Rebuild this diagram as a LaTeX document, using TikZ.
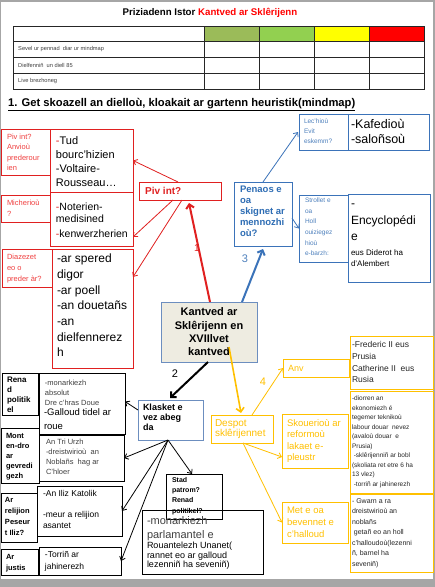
\documentclass[tikz,border=0pt]{standalone}
\usepackage{fontspec}
\setmainfont{Liberation Sans}
\usetikzlibrary{arrows.meta}
\definecolor{bred}{HTML}{E02020}
\definecolor{lred}{HTML}{F04040}
\definecolor{bblue}{HTML}{3B73B9}
\definecolor{lblue}{HTML}{4F81BD}
\definecolor{tblue}{HTML}{2E6DB4}
\definecolor{yel}{HTML}{FFC000}
\definecolor{cfill}{HTML}{EEECE1}
\definecolor{cborder}{HTML}{6C8EBF}
\definecolor{olive}{HTML}{9BBB59}
\definecolor{lgreen}{HTML}{92D050}
\definecolor{yy}{HTML}{FFFF00}
\definecolor{rr}{HTML}{FF0000}
\definecolor{dtext}{HTML}{262626}
\definecolor{gtext}{HTML}{404040}
\definecolor{pageedge}{HTML}{A6A6A6}
\begin{document}
\begin{tikzpicture}[x=1pt,y=-1pt,
 bx/.style={draw, rectangle, inner sep=0pt, outer sep=0pt, anchor=north west, line width=0.8pt},
 rbox/.style={bx, draw=bred},
 bbox/.style={bx, draw=bblue},
 kbox/.style={bx, draw=black},
 ybox/.style={bx, draw=yel},
 tx/.style={anchor=north west, inner sep=0pt, outer sep=0pt, align=left},
 fs/.style 2 args={font=\fontsize{#1}{#2}\selectfont},
 fsb/.style 2 args={font=\fontsize{#1}{#2}\selectfont\bfseries},
 thinarrow/.style={line width=0.8pt, -{Straight Barb[length=3.5pt,width=6pt]}},
 thickarrow/.style={line width=2pt, -{Straight Barb[length=4pt,width=8pt]}},
 tableline/.style={draw=black!85, line width=0.8pt},
]
\useasboundingbox (0,0) rectangle (435,587);
\fill[pageedge] (0,0) rectangle (435,587);
\fill[white] (1,2) rectangle (433,579);

% title
\node[inner sep=0pt, fsb={9.7}{11}] (title) at (210,13) {Priziadenn Istor \textcolor{rr}{Kantved ar Sklêrijenn}};

% table
\fill[olive] (204,26) rectangle (259,41);
\fill[lgreen] (259,26) rectangle (314,41);
\fill[yy] (314,26) rectangle (369,41);
\fill[rr] (369,26) rectangle (424,41);
\draw[tableline] (13,26) rectangle (424,89);
\foreach \yy in {41,57,73} {\draw[tableline] (13,\yy) -- (424,\yy);}
\foreach \xx in {204,259,314,369} {\draw[tableline] (\xx,26) -- (\xx,89);}
\node[anchor=west, inner sep=0pt, fs={5.7}{6}, text=gtext] (row1) at (18,49) {Sevel ur pennad~~diar ur mindmap};
\node[anchor=west, inner sep=0pt, fs={5.7}{6}, text=gtext] (row2) at (18,65) {Dielfenniñ~~un diell 85};
\node[anchor=west, inner sep=0pt, fs={5.7}{6}, text=gtext] (row3) at (18,81) {Live brezhoneg};

% heading
\node[anchor=west, inner sep=0pt, fsb={11.2}{12}] (heading) at (8,105) {\underline{1. Get skoazell an dielloù, kloakait ar gartenn heuristik(mindmap)}};

% ---------- red branch
\node[rbox, minimum width=49pt, minimum height=46pt] (lbl1) at (1,129) {};
\node[tx, fs={7.5}{10.5}, text=lred] (lbl1t) at (7,134) {\vphantom{Ad}Piv int?\\Anvioù\\prederour\\ien};
\node[rbox, minimum width=83pt, minimum height=63pt] (c1) at (50,129) {};
\node[tx, fs={11}{14}] (c1t) at (56,137) {\vphantom{Ad}\textcolor{bred}{-}Tud\\bourc’hizien\\-Voltaire-\\Rousseau…};
\node[rbox, minimum width=49pt, minimum height=27pt] (lbl2) at (1,195) {};
\node[tx, fs={7.5}{10.5}, text=lred] (lbl2t) at (7,200) {\vphantom{Ad}Micherioù\\?};
\node[rbox, minimum width=83pt, minimum height=54pt] (c2) at (50,192) {};
\node[tx, fs={10.5}{12}] (c2t) at (56,202.5) {\vphantom{Ad}\textcolor{bred}{-}Noterien-\\medisined\\[3pt]\textcolor{bred}{-}kenwerzherien};
\node[rbox, minimum width=50pt, minimum height=38pt] (lbl3) at (2,249) {};
\node[tx, fs={7.5}{11}, text=lred] (lbl3t) at (7,254) {\vphantom{Ad}Diazezet\\eo o\\preder àr?};
\node[rbox, minimum width=81pt, minimum height=119pt] (c3) at (52,249) {};
\node[tx, fs={12}{15.7}] (c3t) at (57,254) {\vphantom{Ad}-ar spered\\digor\\-ar poell\\-an douetañs\\-an\\dielfennerez\\h};
\node[rbox, minimum width=82pt, minimum height=18pt] (piv) at (139,182) {};
\node[anchor=west, inner sep=0pt, fsb={10}{12}, text=bred] (pivt) at (145,191) {Piv int?};

% ---------- blue branch
\node[bbox, minimum width=58pt, minimum height=64pt] (penaos) at (234,182) {};
\node[tx, fsb={9.5}{10.8}, text=tblue] (penaost) at (240,186) {\vphantom{Ad}Penaos e\\oa\\skignet ar\\mennozhi\\où?};
\node[bbox, minimum width=49pt, minimum height=36pt] (lech) at (299,114) {};
\node[tx, fs={6.5}{10}, text=lblue] (lecht) at (304,119) {\vphantom{Ad}Lec’hioù\\Evit\\eskemm?};
\node[bbox, minimum width=81pt, minimum height=36pt] (kafe) at (348,114) {};
\node[tx, fs={12.5}{15}] (kafet) at (351,119.5) {\vphantom{Ad}-Kafedioù\\-saloñsoù};
\node[bbox, minimum width=49pt, minimum height=67pt] (strl) at (299,195) {};
\node[tx, fs={6.5}{10.6}, text=lblue] (strlt) at (305,198) {\vphantom{Ad}Strollet e\\oa\\Holl\\ouiziegez\\hioù\\e-barzh:};
\node[bbox, minimum width=82pt, minimum height=88pt] (ency) at (348,194) {};
\node[tx, fs={12}{16.5}] (encyt) at (351,199) {\vphantom{Ad}-\\Encyclopédi\\e};
\node[tx, fs={8}{11}] (encyb) at (351,249.7) {\vphantom{Ad}eus Diderot ha\\d’Alembert};

% ---------- central
\node[bx, draw=cborder, fill=cfill, minimum width=96pt, minimum height=60pt] (central) at (161,302) {};
\node[align=center, inner sep=0pt, fsb={11}{13.3}] (centralt) at (209,332) {Kantved ar\\Sklêrijenn en\\XVIIlvet\\kantved};

% ---------- black branch
\node[bx, draw=cborder, minimum width=65pt, minimum height=40pt] (klask) at (138,400) {};
\node[tx, fsb={9}{10}] (klaskt) at (143,404) {\vphantom{Ad}Klasket e\\vez abeg\\da};
\node[kbox, minimum width=36pt, minimum height=42pt] (ren) at (2,373) {};
\node[tx, fsb={8}{10}] (rent) at (7,376.6) {\vphantom{Ad}Rena\\d\\politik\\el};
\node[kbox, minimum width=86pt, minimum height=61pt] (rc1) at (39,373) {};
\node[tx, fs={7.5}{10}, text=gtext] (rc1a) at (45,380) {\vphantom{Ad}-monarkiezh\\absolut\\Dre c’hras Doue};
\node[tx, fs={9.5}{14}] (rc1b) at (44,409) {\vphantom{Ad}-Galloud tidel ar\\roue};
\node[kbox, minimum width=38pt, minimum height=55pt] (mont) at (1,428) {};
\node[tx, fsb={7.5}{10}] (montt) at (6,433) {\vphantom{Ad}Mont\\en-dro\\ar\\gevredi\\gezh};
\node[kbox, minimum width=85pt, minimum height=46pt] (rc2) at (39,435) {};
\node[tx, fs={7.5}{10}, text=gtext] (rc2t) at (46,439) {\vphantom{Ad}An Tri Urzh\\-dreistwirioù~~an\\Noblañs~~hag ar\\C’hloer};
\node[kbox, minimum width=36pt, minimum height=49pt] (rel) at (1,493) {};
\node[tx, fsb={7.5}{11}] (relt) at (5,497) {\vphantom{Ad}Ar\\relijion\\Peseur\\t Iliz?};
\node[kbox, minimum width=85pt, minimum height=50pt] (rc3) at (37,486) {};
\node[tx, fs={8.5}{10.5}] (rc3t) at (43,490.5) {\vphantom{Ad}-An Iliz Katolik\\[10.5pt]-meur a relijion\\asantet};
\node[kbox, minimum width=37pt, minimum height=26pt] (jus) at (1,549) {};
\node[tx, fsb={7.5}{11}] (just) at (6,554) {\vphantom{Ad}Ar\\justis};
\node[kbox, minimum width=82pt, minimum height=28pt] (rc4) at (39,547) {};
\node[tx, fs={8.5}{11.5}] (rc4t) at (45,551.5) {\vphantom{Ad}-Torriñ ar\\jahinerezh};
\node[kbox, minimum width=56pt, minimum height=45pt] (stad) at (166,474) {};
\node[tx, fsb={7}{10.4}] (stadt) at (172,477) {\vphantom{Ad}Stad\\patrom?\\Renad\\politikel?};
\node[kbox, minimum width=121pt, minimum height=64pt] (monk) at (142,510) {};
\node[tx, fs={11}{14}, text=gtext] (monka) at (147,516.5) {\vphantom{Ad}-monarkiezh\\parlamantel e};
\node[tx, fs={9}{9.6}] (monkb) at (147,542) {\vphantom{Ad}Rouantelezh Unanet(\\rannet eo ar galloud\\lezenniñ ha seveniñ)};

% ---------- yellow branch
\node[ybox, minimum width=62pt, minimum height=28pt] (despot) at (211,415) {};
\node[tx, fs={10}{10.5}, text=yel] (despott) at (215,419) {\vphantom{Ad}Despot\\sklêrijennet};
\node[ybox, minimum width=66pt, minimum height=18pt] (anv) at (283,359) {};
\node[anchor=west, inner sep=0pt, fs={9}{10}, text=yel] (anvt) at (288,368) {Anv};
\node[ybox, minimum width=83pt, minimum height=53pt] (fred) at (350,336) {};
\node[tx, fs={8.5}{11.7}, text=dtext] (fredt) at (352,341.5) {\vphantom{Ad}-Frederic II eus\\Prusia\\Catherine II~~eus\\Rusia};
\node[ybox, minimum width=66pt, minimum height=54pt] (skl) at (282,414) {};
\node[tx, fs={9.5}{11.5}, text=yel] (sklt) at (287,419) {\vphantom{Ad}Skouerioù ar\\reformoù\\lakaet e-\\pleustr};
\node[ybox, minimum width=83pt, minimum height=102pt] (skc) at (350,391) {};
\node[tx, fs={6.5}{9.5}, text=dtext] (skct) at (352,396) {\vphantom{Ad}-diorren an\\ekonomiezh é\\tegemer teknikoù\\labour douar~~nevez\\(avaloù douar~~e\\Prusia)\\~-sklêrijenniñ ar bobl\\(skoliata ret etre 6 ha\\13 vlez)\\~-torriñ ar jahinerezh};
\node[ybox, minimum width=66pt, minimum height=41pt] (metl) at (282,502) {};
\node[tx, fs={9.5}{12}, text=yel] (metlt) at (287,507) {\vphantom{Ad}Met e oa\\bevennet e\\c’halloud};
\node[ybox, minimum width=83pt, minimum height=78pt] (metc) at (350,494) {};
\node[tx, fs={7}{10.5}, text=dtext] (metct) at (352,498) {\vphantom{Ad}- Gwarn a ra\\dreistwirioù an\\noblañs\\~getañ eo an holl\\c’halloudoù(lezenni\\ñ, barnel ha\\seveniñ)};

% ---------- connectors
% red
\draw[thinarrow, draw=bred] ([xshift=39pt]piv.north west) -- (c1.east);
\draw[thinarrow, draw=bred] ([xshift=34pt]piv.south west) -- ([yshift=-18pt]c2.east);
\draw[thinarrow, draw=bred] ([xshift=43pt]piv.south west) -- ([yshift=31.5pt]c3.east);
\draw[thickarrow, draw=bred] ([xshift=49pt]central.north west) -- ([xshift=50pt,yshift=-3pt]piv.south west);
\node[inner sep=0pt, fs={10}{12}, text=bred] (n1) at (197,248) {1};
% blue
\draw[thickarrow, draw=bblue] ([xshift=81pt]central.north west) -- ([xshift=29pt,yshift=-3pt]penaos.south west);
\draw[thinarrow, draw=bblue] ([xshift=29pt]penaos.north west) -- ([xshift=-1pt]lech.west);
\draw[thinarrow, draw=bblue] ([yshift=-4pt]penaos.east) -- (strl.west);
\node[inner sep=0pt, fs={11}{12}, text=lblue] (n3) at (245,259) {3};
% black
\draw[thickarrow] ([xshift=47pt]central.south west) -- ([xshift=32pt,yshift=2pt]klask.north west);
\node[inner sep=0pt, fs={11}{12}] (n2) at (175,374) {2};
\draw[thinarrow] ([yshift=-10pt]klask.north west) -- ([yshift=2pt]rc1.east);
\draw[thinarrow] ([xshift=30pt]klask.south west) -- (rc2.east);
\draw[thinarrow] ([xshift=30pt]klask.south west) -- (rc3.east);
\draw[thinarrow] ([xshift=30pt]klask.south west) -- (rc4.east);
\draw[thinarrow] ([xshift=30pt]klask.south west) -- ([xshift=-2pt]stad.north);
% yellow
\draw[line width=1.6pt, draw=yel, -{Straight Barb[length=4pt,width=8pt]}] ([xshift=68pt,yshift=15pt]central.south west) -- ([xshift=30pt,yshift=2pt]despot.north west);
\node[inner sep=0pt, fs={11}{12}, text=yel] (n4) at (263,382) {4};
\draw[thinarrow, draw=yel] ([xshift=41pt]despot.north west) -- (anv.west);
\draw[thinarrow, draw=yel] ([xshift=32pt]despot.south west) -- ([yshift=-16pt]skl.west);
\draw[thinarrow, draw=yel] ([xshift=32pt]despot.south west) -- (metl.west);
\end{tikzpicture}
\end{document}
